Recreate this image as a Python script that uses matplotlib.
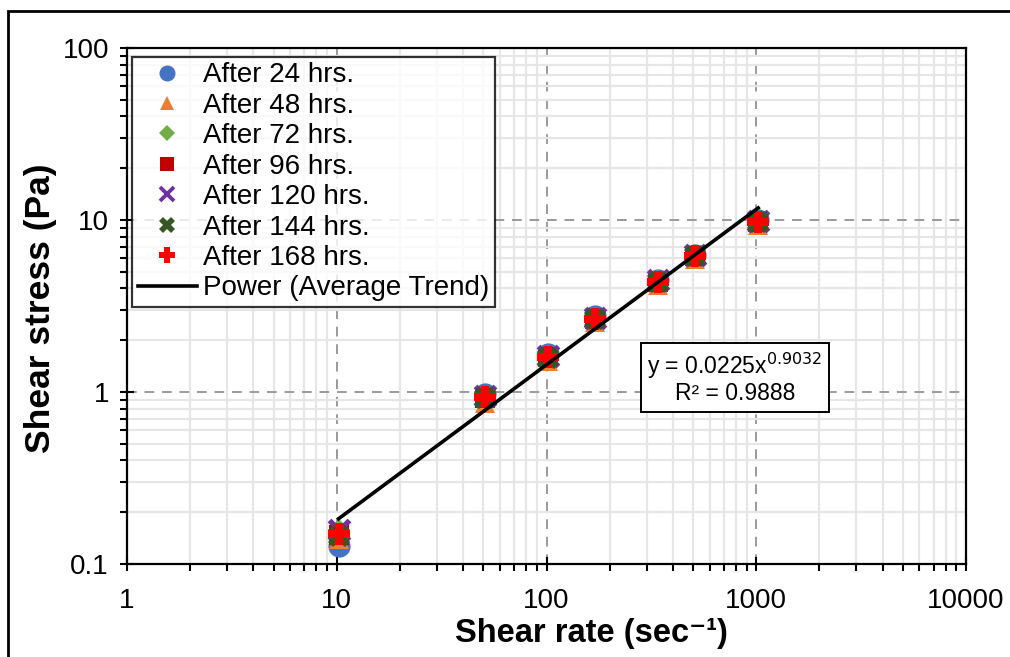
import numpy as np
import matplotlib
matplotlib.use("Agg")
import matplotlib.pyplot as plt
from matplotlib.patches import Rectangle
from matplotlib.lines import Line2D
from matplotlib.ticker import LogLocator, FixedLocator, NullFormatter, FixedFormatter

plt.rcParams['font.family'] = ['Liberation Sans', 'DejaVu Sans']

# Shear rates (sec^-1) from viscometer speeds 6, 30, 60, 100, 200, 300, 600 rpm
shear_rate = [10.2, 51.1, 102.2, 170.3, 340.6, 511.0, 1021.8]

# Shear stress (Pa) per ageing time
labels = ["After 24 hrs.", "After 48 hrs.", "After 72 hrs.", "After 96 hrs.",
          "After 120 hrs.", "After 144 hrs.", "After 168 hrs."]
stress_24 = [0.128, 0.97, 1.66, 2.76, 4.50, 6.30, 10.0]
stress_48 = [0.140, 0.86, 1.52, 2.55, 4.20, 5.95, 9.40]
stress_72 = [0.158, 0.94, 1.61, 2.70, 4.42, 6.22, 9.85]
stress_96 = [0.148, 0.92, 1.60, 2.65, 4.35, 6.15, 9.75]
stress_120 = [0.157, 0.95, 1.63, 2.71, 4.45, 6.26, 9.90]
stress_144 = [0.145, 0.92, 1.58, 2.64, 4.34, 6.14, 9.70]
stress_168 = [0.150, 0.93, 1.60, 2.66, 4.36, 6.16, 9.76]

# Power-law fit of the average trend
fit_a = 0.0225
fit_b = 0.9032
fit_r2 = 0.9888

x_ticks = [1, 10, 100, 1000, 10000]
x_ticklabels = ["1", "10", "100", "1000", "10000"]
y_ticks = [0.1, 1, 10, 100]
y_ticklabels = ["0.1", "1", "10", "100"]

series = [stress_24, stress_48, stress_72, stress_96, stress_120, stress_144, stress_168]
styles = [
    dict(marker='o', color='#4472C4', ms=16),
    dict(marker='^', color='#ED7D31', ms=14),
    dict(marker='D', color='#70AD47', ms=11),
    dict(marker='s', color='#C00000', ms=14),
    dict(marker='x', color='#7030A0', ms=14, mew=3.8),
    dict(marker='X', color='#375623', ms=16),
    dict(marker='P', color='#FF0000', ms=16),
]

fig = plt.figure(figsize=(10.1, 6.57), dpi=100)
ax = fig.add_axes([127 / 1010, 1 - 564 / 657, 839 / 1010, 516 / 657])

ax.set_xscale('log')
ax.set_yscale('log')
ax.set_xlim(1, 10000)
ax.set_ylim(0.1, 100)

# grid: light minor lines, dashed major lines
ax.xaxis.set_minor_locator(LogLocator(base=10, subs=np.arange(2, 10), numticks=20))
ax.yaxis.set_minor_locator(LogLocator(base=10, subs=np.arange(2, 10), numticks=20))
ax.xaxis.set_minor_formatter(NullFormatter())
ax.yaxis.set_minor_formatter(NullFormatter())
ax.xaxis.set_major_locator(FixedLocator(x_ticks))
ax.xaxis.set_major_formatter(FixedFormatter(x_ticklabels))
ax.yaxis.set_major_locator(FixedLocator(y_ticks))
ax.yaxis.set_major_formatter(FixedFormatter(y_ticklabels))

ax.grid(which='minor', color='#e6e6e6', linewidth=1.6, linestyle='-', zorder=0)
ax.grid(which='major', color='#9a9a9a', linewidth=1.4, linestyle=(0, (5, 4)), zorder=0.5)
ax.set_axisbelow(True)

for sp in ax.spines.values():
    sp.set_linewidth(1.6)
    sp.set_color('black')

ax.tick_params(which='major', direction='inout', length=10, width=1.5, labelsize=20,
               colors='black')
ax.tick_params(axis='x', which='major', pad=12)
ax.tick_params(axis='y', which='major', pad=8)
ax.tick_params(which='minor', direction='out', length=5, width=1.5)

handles = []
for vals, lab, st in zip(series, labels, styles):
    mew = st.get('mew', 0)
    ax.plot(shear_rate, vals, linestyle='none', marker=st['marker'], color=st['color'],
            markersize=st['ms'], markeredgewidth=mew, zorder=3)
    handles.append(Line2D([], [], linestyle='none', marker=st['marker'], color=st['color'],
                          markersize=st['ms'] * 0.72, markeredgewidth=mew * 0.72, label=lab))

xf = np.logspace(np.log10(shear_rate[0]), np.log10(shear_rate[-1]), 50)
ax.plot(xf, fit_a * xf ** fit_b, color='black', linewidth=2.6, zorder=4)
handles.append(Line2D([], [], color='black', linewidth=2.6, label='Power (Average Trend)'))

leg = ax.legend(handles=handles, loc='upper left', bbox_to_anchor=(0.006, 0.983),
                fontsize=20, frameon=True, fancybox=False, edgecolor='black',
                handlelength=2.15, handletextpad=0.2, labelspacing=0.16,
                borderpad=0.2, borderaxespad=0)
leg.get_frame().set_linewidth(1.6)
leg.set_zorder(5)

eq_text = f"y = {fit_a:.4f}x$^{{{fit_b:.4f}}}$\nR² = {fit_r2:.4f}"
ax.text(0.7245, 0.36, eq_text,
        transform=ax.transAxes, ha='center', va='center', fontsize=16.5,
        multialignment='center', linespacing=1.05, zorder=6,
        bbox=dict(boxstyle='square,pad=0.28', facecolor='white', edgecolor='black', linewidth=1.4))

ax.set_xlabel("Shear rate (sec⁻¹)", fontsize=23.5, fontweight='bold')
ax.xaxis.set_label_coords(0.553, -0.104)
ax.set_ylabel("Shear stress (Pa)", fontsize=25.5, fontweight='bold')
ax.yaxis.set_label_coords(-0.084, 0.495)

# chart-area frame
fig.patches.append(Rectangle((8 / 1010, -0.1), 1.2, 1 - 11 / 657 + 0.1,
                             transform=fig.transFigure, fill=False, edgecolor='black',
                             linewidth=2.0))

fig.savefig("out.png", dpi=100)
